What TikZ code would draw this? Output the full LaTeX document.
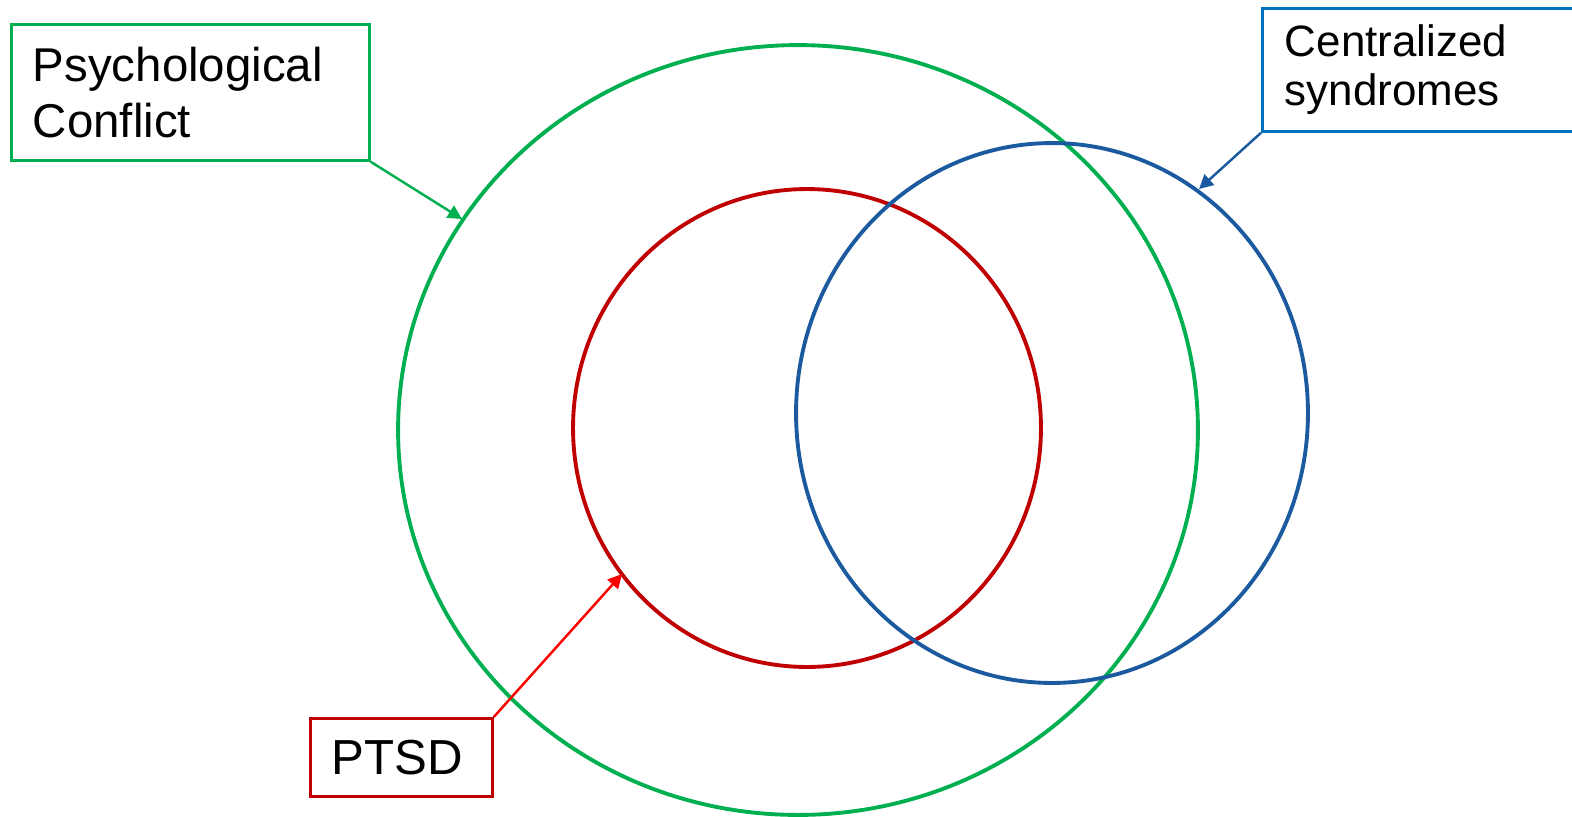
\documentclass[tikz,border=0pt]{standalone}
\usepackage{fontspec}
\setmainfont{Liberation Sans}
\usetikzlibrary{arrows.meta}
\definecolor{cgreen}{HTML}{00B050}
\definecolor{cdarkred}{HTML}{C00000}
\definecolor{cred}{HTML}{FF0000}
\definecolor{cblue}{HTML}{1B5A9E}
\definecolor{cboxblue}{HTML}{0070C0}
\begin{document}
\begin{tikzpicture}[x=0.02cm, y=-0.02cm,
  >={Triangle[length=8pt, width=8pt]},
  ring/.style={line width=2.2pt},
  labelbox/.style={draw, rectangle, line width=1.6pt, anchor=north west, align=left, inner xsep=0.42cm, inner ysep=0pt},
  pointer/.style={->, line width=1.4pt}]
\useasboundingbox (0,0) rectangle (1572,816);
% the three sets
\draw[ring, cgreen] (798,430) ellipse [x radius=8cm, y radius=7.7cm];
\draw[ring, cdarkred] (807,428) ellipse [x radius=4.68cm, y radius=4.78cm];
\draw[ring, cblue] (1052,413) ellipse [x radius=5.12cm, y radius=5.4cm];
% labels
\node[labelbox, cgreen, minimum width=7.16cm, minimum height=2.72cm, text width=6.3cm,
  font=\fontsize{27pt}{32pt}\selectfont] (conflict) at (10,23) {\color{black}Psychological\\\color{black}Conflict};
\node[labelbox, cboxblue, minimum width=6.8cm, minimum height=2.46cm, text width=5.9cm,
  font=\fontsize{25pt}{28pt}\selectfont] (central) at (1261,7) {\color{black}Centralized\\\color{black}syndromes};
\node[labelbox, cdarkred, minimum width=3.64cm, minimum height=1.56cm, text width=2.8cm,
  font=\fontsize{28pt}{32pt}\selectfont] (ptsd) at (309,717) {\color{black}PTSD};
% arrow tips on the rings
\coordinate (conflicttip) at (462,219);
\coordinate (centraltip) at (1199,189);
\coordinate (ptsdtip) at (622,574);
\draw[pointer, cgreen] (conflict.south east) -- (conflicttip);
\draw[pointer, cblue] (central.south west) -- (centraltip);
\draw[pointer, cred] (ptsd.north east) -- (ptsdtip);
\end{tikzpicture}
\end{document}
